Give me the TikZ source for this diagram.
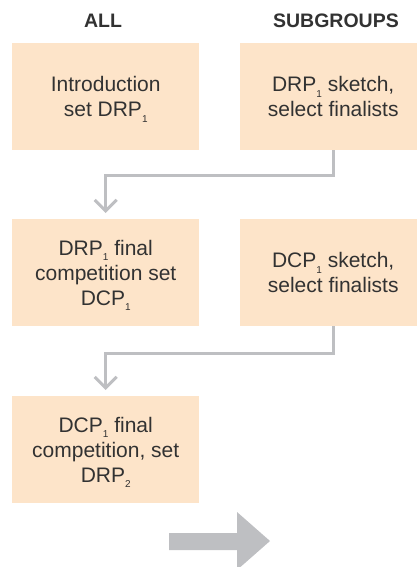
\documentclass[tikz,border=0pt]{standalone}
\usepackage{fontspec}
\setmainfont{Liberation Sans}
\usetikzlibrary{arrows.meta}
\definecolor{peach}{RGB}{253,228,201}
\definecolor{conn}{RGB}{190,191,194}
\definecolor{txt}{RGB}{50,50,50}
\newcommand{\subn}[1]{\raisebox{-5.5pt}[0pt][0pt]{\fontsize{10}{10}\selectfont #1}}
\begin{document}
\begin{tikzpicture}[x=1pt,y=-1pt,
  box/.style={fill=peach, minimum width=187pt, minimum height=107pt, inner sep=0pt,
    align=center, text=txt, font=\fontsize{21}{25}\selectfont, anchor=north west},
  head/.style={font=\fontsize{19.5}{22}\selectfont\bfseries, text=txt, anchor=base, inner sep=0pt},
  conline/.style={draw=conn, line width=3pt, -{Straight Barb[length=11pt,width=22pt,line width=3pt]}, shorten >=6pt}]
\useasboundingbox (0,0) rectangle (416,567);
\node[head] (hall) at (103,28) {ALL};
\node[head] (hsub) at (336,28) {SUBGROUPS};
\node[box] (l1) at (12,43) {Introduction\\set DRP\subn{1}};
\node[box, minimum width=186pt] (r1) at (240,43) {DRP\subn{1} sketch,\\select finalists};
\node[box] (l2) at (12,219) {DRP\subn{1} final\\competition set\\DCP\subn{1}};
\node[box, minimum width=186pt] (r2) at (240,219) {DCP\subn{1} sketch,\\select finalists};
\node[box] (l3) at (12,396) {DCP\subn{1} final\\competition, set\\DRP\subn{2}};
\coordinate (k1) at (333,175);
\coordinate (k2) at (333,353);
\draw[conline] (r1.south -| k1) -- (k1) -| (l2.north);
\draw[conline] (r2.south -| k2) -- (k2) -| (l3.north);
\fill[conn] (169,533) -- (237,533) -- (237,512) -- (270,541) -- (237,570) -- (237,550) -- (169,550) -- cycle;
\end{tikzpicture}
\end{document}
